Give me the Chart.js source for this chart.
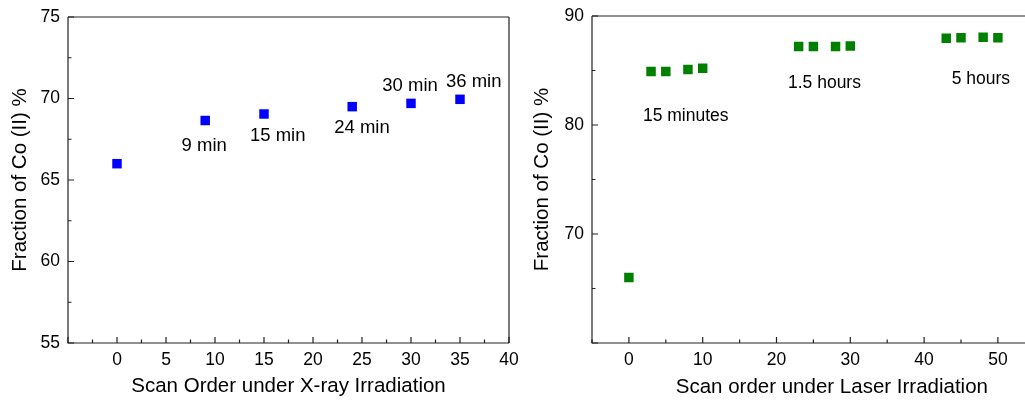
<!DOCTYPE html>
<html>
<head>
<meta charset="utf-8">
<script src="https://cdn.jsdelivr.net/npm/chart.js@4/dist/chart.umd.min.js"></script>
<style>
  html, body { margin: 0; padding: 0; background: #fff; overflow: hidden; width: 1025px; height: 402px; position: relative; }
  .box { position: absolute; top: 0; height: 402px; overflow: hidden; }
  #left { left: 0; width: 525px; }
  #right { left: 525px; width: 560px; }
  canvas { position: absolute; top: 0; left: 0; }
</style>
</head>
<body>
<div class="box" id="left"><canvas id="xray" width="525" height="402"></canvas></div>
<div class="box" id="right"><canvas id="laser" width="560" height="402"></canvas></div>
<script>
// X-ray panel data
const xrayScan = [0, 9, 15, 24, 30, 35];
const xrayCo = [66.0, 68.65, 69.05, 69.5, 69.7, 69.95];
const xrayLabels = ["9 min", "15 min", "24 min", "30 min", "36 min"];
const xrayLabelAt = [[8.9, 67.1], [16.4, 67.7], [25.0, 68.2], [29.9, 70.8], [36.4, 71.0]];
const xrayXTicks = [0, 5, 10, 15, 20, 25, 30, 35, 40];
const xrayYTicks = [55, 60, 65, 70, 75];

// Laser panel data
const laserScan = [0, 3, 5, 8, 10, 23, 25, 28, 30, 43, 45, 48, 50];
const laserCo = [66.0, 84.9, 84.9, 85.1, 85.2, 87.2, 87.2, 87.2, 87.25, 87.95, 88.0, 88.05, 88.0];
const laserLabels = ["15 minutes", "1.5 hours", "5 hours"];
const laserLabelAt = [[7.7, 80.8], [26.5, 83.8], [47.7, 84.2]];
const laserXTicks = [0, 10, 20, 30, 40, 50];
const laserYTicks = [70, 80, 90];

const FONT = '"Liberation Sans", Arial, sans-serif';

// frame + inward ticks (major and minor) + text labels
const framePlugin = {
  id: 'frame',
  beforeDatasetsDraw(chart, args, opts) {
    const ctx = chart.ctx, a = chart.chartArea;
    const xs = chart.scales.x, ys = chart.scales.y;
    ctx.save();
    ctx.strokeStyle = '#222';
    ctx.lineWidth = 1.2;
    ctx.beginPath();
    ctx.moveTo(a.left, a.top);
    ctx.lineTo(a.left, a.bottom);
    ctx.lineTo(a.right, a.bottom);
    ctx.moveTo(a.left, a.top);
    ctx.lineTo(a.right, a.top);
    if (opts.rightEdge) {
      ctx.moveTo(a.right, a.top);
      ctx.lineTo(a.right, a.bottom);
    }
    ctx.stroke();
    const marks = (scale, cb) => {
      const t = scale.ticks.map(k => k.value);
      const half = (t[1] - t[0]) / 2;
      for (let i = -40; i < 80; i++) {
        const v = t[0] + i * half;
        if (v < scale.min - 1e-9 || v > scale.max + 1e-9) continue;
        cb(scale.getPixelForValue(v), i % 2 === 0 ? 6 : 3.5);
      }
    };
    ctx.beginPath();
    marks(xs, (px, len) => { ctx.moveTo(px, a.bottom); ctx.lineTo(px, a.bottom - len); });
    marks(ys, (py, len) => { ctx.moveTo(a.left, py); ctx.lineTo(a.left + len, py); });
    ctx.stroke();
    ctx.restore();
  },
  afterDatasetsDraw(chart, args, opts) {
    const ctx = chart.ctx;
    const xs = chart.scales.x, ys = chart.scales.y;
    ctx.save();
    ctx.fillStyle = '#000';
    ctx.font = opts.size + 'px ' + FONT;
    ctx.textAlign = 'center';
    ctx.textBaseline = 'middle';
    opts.texts.forEach((txt, i) => {
      const p = opts.at[i];
      ctx.fillText(txt, xs.getPixelForValue(p[0]), ys.getPixelForValue(p[1]));
    });
    ctx.restore();
  }
};

function makeChart(id, cfg) {
  return new Chart(document.getElementById(id), {
    type: 'scatter',
    data: {
      datasets: [{
        data: cfg.xs.map((x, i) => ({ x: x, y: cfg.ys[i] })),
        backgroundColor: cfg.color,
        borderWidth: 0,
        pointStyle: 'rect',
        pointRadius: 6.7,
        pointHoverRadius: 6.7
      }]
    },
    options: {
      responsive: false,
      animation: false,
      events: [],
      layout: { padding: { top: cfg.top, right: cfg.right, left: 0, bottom: 0 } },
      plugins: {
        legend: { display: false },
        tooltip: { enabled: false },
        frame: { texts: cfg.texts, at: cfg.textAt, size: cfg.textSize, rightEdge: cfg.rightEdge }
      },
      scales: {
        x: {
          type: 'linear',
          min: cfg.xMin, max: cfg.xMax,
          grid: { display: false, drawTicks: false },
          border: { display: false },
          afterBuildTicks: s => { s.ticks = cfg.xTicks.map(v => ({ value: v })); },
          afterFit: s => { s.height = 59; s.paddingLeft = 0; s.paddingRight = 0; },
          ticks: { color: '#000', padding: 7, maxRotation: 0, font: { family: FONT, size: 17.5 } },
          title: {
            display: true, text: cfg.xTitle, color: '#000',
            font: { family: FONT, size: 20.5 },
            padding: { top: 0, bottom: cfg.xTitlePad }
          }
        },
        y: {
          type: 'linear',
          min: cfg.yMin, max: cfg.yMax,
          grid: { display: false, drawTicks: false },
          border: { display: false },
          afterBuildTicks: s => { s.ticks = cfg.yTicks.map(v => ({ value: v })); },
          afterFit: s => { s.width = cfg.yWidth; s.paddingTop = 0; s.paddingBottom = 0; },
          ticks: { color: '#000', padding: 8, font: { family: FONT, size: 17.5 } },
          title: {
            display: true, text: 'Fraction of Co (II) %', color: '#000',
            font: { family: FONT, size: 20.5 },
            padding: { top: cfg.yTitlePad, bottom: 0 }
          }
        }
      }
    },
    plugins: [framePlugin]
  });
}

makeChart('xray', {
  xs: xrayScan, ys: xrayCo, color: '#0000ff',
  texts: xrayLabels, textAt: xrayLabelAt, textSize: 18.5,
  xTicks: xrayXTicks, yTicks: xrayYTicks,
  xMin: -5, xMax: 40, yMin: 55, yMax: 75,
  top: 17, right: 16, yWidth: 68, rightEdge: true,
  xTitle: 'Scan Order under X-ray Irradiation', xTitlePad: 3, yTitlePad: 8
});

makeChart('laser', {
  xs: laserScan, ys: laserCo, color: '#008000',
  texts: laserLabels, textAt: laserLabelAt, textSize: 17.5,
  xTicks: laserXTicks, yTicks: laserYTicks,
  xMin: -5, xMax: 60, yMin: 60, yMax: 90,
  top: 16, right: 13.3, yWidth: 67, rightEdge: false,
  xTitle: 'Scan order under Laser Irradiation', xTitlePad: 2, yTitlePad: 4.7
});
</script>
</body>
</html>
